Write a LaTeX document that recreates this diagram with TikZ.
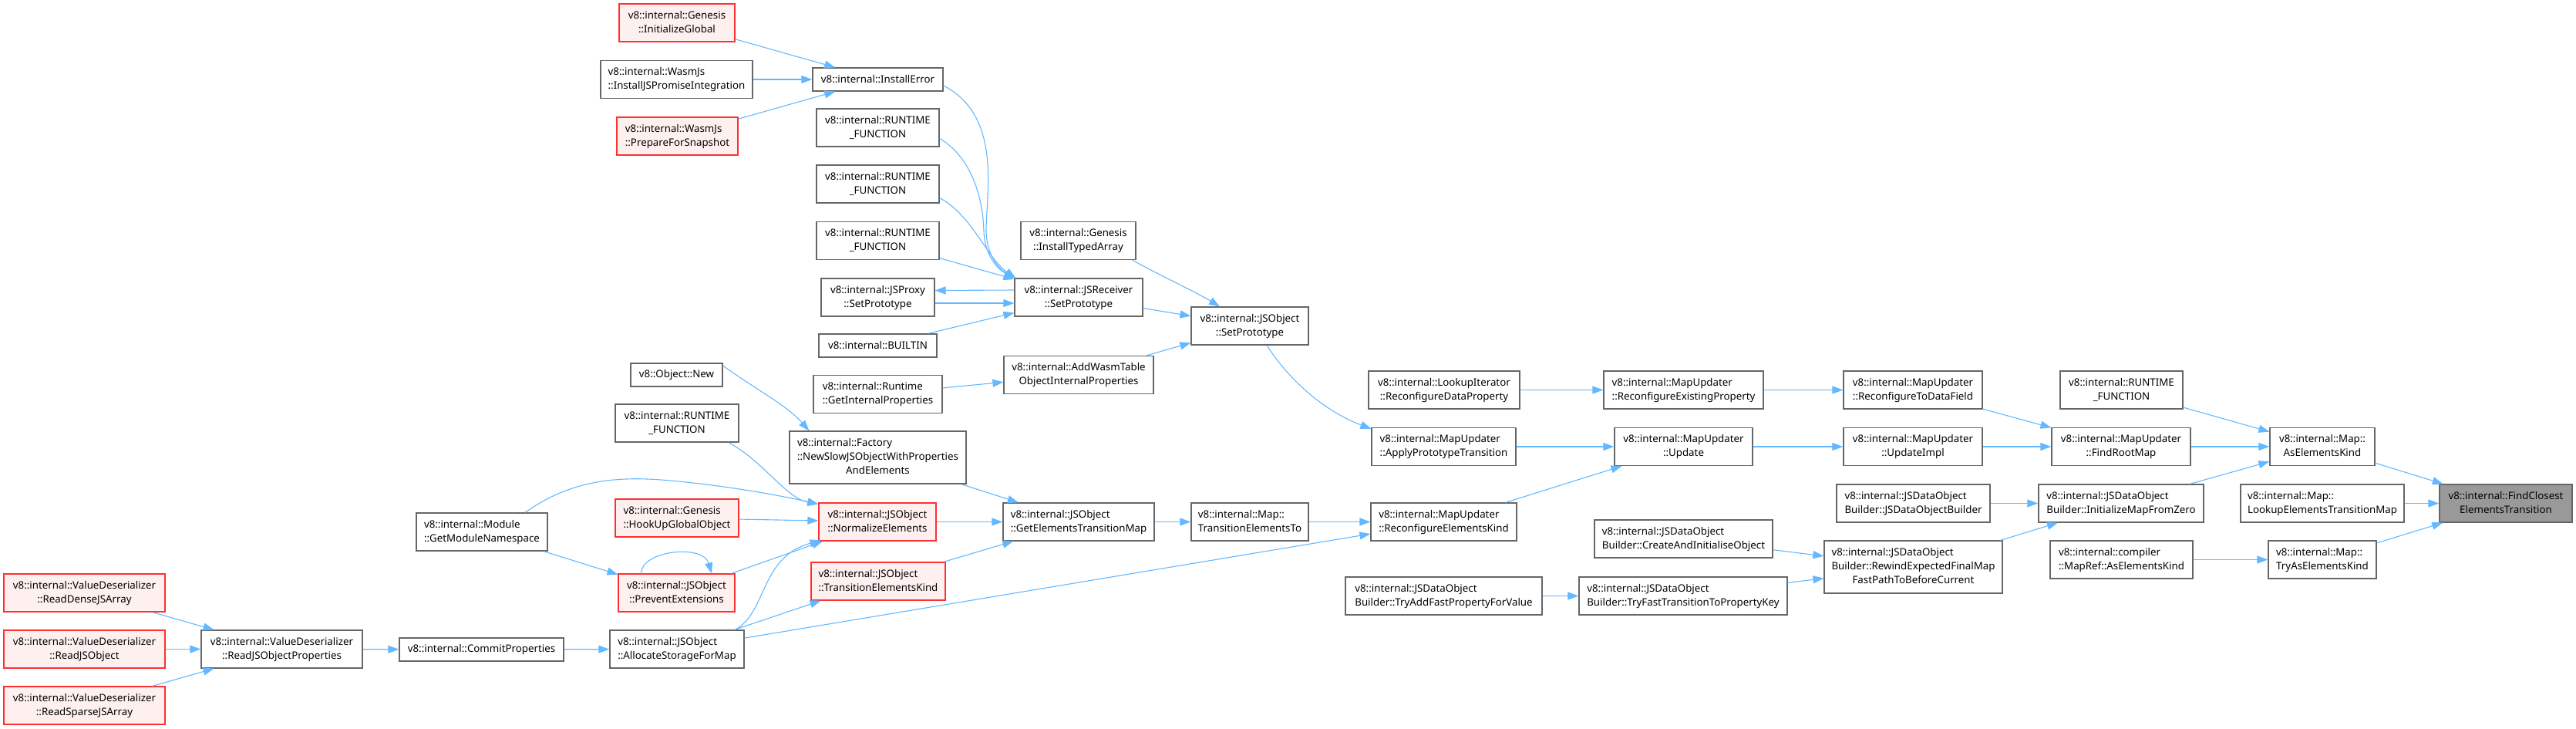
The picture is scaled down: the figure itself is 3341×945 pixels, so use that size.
\documentclass[tikz,border=0pt]{standalone}
\usepackage{fontspec}
\setmainfont{Noto Sans}
\usetikzlibrary{arrows.meta}
\definecolor{edgeblue}{HTML}{63B8FF}
\definecolor{boxgray}{HTML}{666666}
\definecolor{redfill}{HTML}{FFF0F0}
\definecolor{redline}{HTML}{FF3030}
\definecolor{mainfill}{HTML}{999999}
\newcommand{\twoline}[2]{\begin{tabular}{@{}l@{}}#1\\\multicolumn{1}{@{}c@{}}{#2}\end{tabular}}
\newcommand{\threeline}[3]{\begin{tabular}{@{}l@{}}#1\\#2\\\multicolumn{1}{@{}c@{}}{#3}\end{tabular}}
\tikzset{
  fn/.style={draw=boxgray, fill=white, line width=1.2pt, inner sep=0pt, text=black,
    font=\fontsize{13.3}{18}\selectfont, minimum height=49pt},
  redfn/.style={fn, draw=redline, fill=redfill},
  mainfn/.style={fn, fill=mainfill},
  wd/.style={minimum width=#1pt},
  oneline/.style={minimum height=30pt},
  tripleline/.style={minimum height=68pt},
  call/.style={draw=edgeblue, line width=1.1pt, -{Triangle[length=14pt,width=10pt]}},
}
\begin{document}
\begin{tikzpicture}[x=1pt,y=-1pt]
\useasboundingbox (0,0) rectangle (3341,945);
% column 1-3
\node[redfn,wd=209] (rdense) at (109.5,768.5) {\twoline{v8::internal::ValueDeserializer}{::ReadDenseJSArray}};
\node[redfn,wd=209] (rjsobj) at (109.5,841.5) {\twoline{v8::internal::ValueDeserializer}{::ReadJSObject}};
\node[redfn,wd=209] (rsparse) at (109.5,914.5) {\twoline{v8::internal::ValueDeserializer}{::ReadSparseJSArray}};
\node[fn,wd=209] (rprops) at (365.5,841.5) {\twoline{v8::internal::ValueDeserializer}{::ReadJSObjectProperties}};
\node[fn,wd=213,oneline] (commit) at (624.5,842) {v8::internal::CommitProperties};
\node[fn,wd=170] (modns) at (625,689.5) {\twoline{v8::internal::Module}{::GetModuleNamespace}};
% column 4
\node[redfn,wd=150] (initglobal) at (878,29.5) {\twoline{v8::internal::Genesis}{::InitializeGlobal}};
\node[fn,wd=197] (jspromise) at (877.5,103) {\twoline{v8::internal::WasmJs}{::InstallJSPromiseIntegration}};
\node[redfn,wd=157] (prepsnap) at (878.5,176.5) {\twoline{v8::internal::WasmJs}{::PrepareForSnapshot}};
\node[fn,wd=119,oneline] (objnew) at (877.5,486) {v8::Object::New};
\node[fn,wd=160] (rtleft) at (878,548.5) {\twoline{v8::internal::RUNTIME}{\_FUNCTION}};
\node[redfn,wd=160] (hookup) at (878,671.5) {\twoline{v8::internal::Genesis}{::HookUpGlobalObject}};
\node[redfn,wd=151] (prevext) at (877.5,768.5) {\twoline{v8::internal::JSObject}{::PreventExtensions}};
\node[fn,wd=174] (allocst) at (878,841.5) {\twoline{v8::internal::JSObject}{::AllocateStorageForMap}};
% column 5
\node[fn,wd=169,oneline] (insterr) at (1138.5,103) {v8::internal::InstallError};
\node[fn,wd=159] (rt1) at (1138.5,165.5) {\twoline{v8::internal::RUNTIME}{\_FUNCTION}};
\node[fn,wd=159] (rt2) at (1138.5,238.5) {\twoline{v8::internal::RUNTIME}{\_FUNCTION}};
\node[fn,wd=159] (rt3) at (1138.5,312) {\twoline{v8::internal::RUNTIME}{\_FUNCTION}};
\node[fn,wd=147] (jsproxy) at (1138.5,385.5) {\twoline{v8::internal::JSProxy}{::SetPrototype}};
\node[fn,wd=153,oneline] (builtin) at (1138.5,448) {v8::internal::BUILTIN};
\node[fn,wd=167] (getint) at (1138.5,511) {\twoline{v8::internal::Runtime}{::GetInternalProperties}};
\node[fn,wd=229,tripleline] (factory) at (1138.5,593) {\threeline{v8::internal::Factory}{::NewSlowJSObjectWithProperties}{AndElements}};
\node[redfn,wd=152] (normalize) at (1138,676.5) {\twoline{v8::internal::JSObject}{::NormalizeElements}};
\node[redfn,wd=174] (transkind) at (1139,753.5) {\twoline{v8::internal::JSObject}{::TransitionElementsKind}};
% column 6-7
\node[fn,wd=149] (typedarr) at (1398.5,312) {\twoline{v8::internal::Genesis}{::InstallTypedArray}};
\node[fn,wd=166] (jsrecv) at (1399,385.5) {\twoline{v8::internal::JSReceiver}{::SetPrototype}};
\node[fn,wd=194] (addwasm) at (1399,486) {\twoline{v8::internal::AddWasmTable}{ObjectInternalProperties}};
\node[fn,wd=196] (getetm) at (1399,676.5) {\twoline{v8::internal::JSObject}{::GetElementsTransitionMap}};
\node[fn,wd=152] (jsobjsp) at (1621,422.5) {\twoline{v8::internal::JSObject}{::SetPrototype}};
\node[fn,wd=152] (transto) at (1621,676.5) {\twoline{v8::internal::Map::}{TransitionElementsTo}};
% column 8
\node[fn,wd=196] (lookupit) at (1873,505.5) {\twoline{v8::internal::LookupIterator}{::ReconfigureDataProperty}};
\node[fn,wd=187] (applyproto) at (1872.5,579) {\twoline{v8::internal::MapUpdater}{::ApplyPrototypeTransition}};
\node[fn,wd=189] (reconfek) at (1872.5,676.5) {\twoline{v8::internal::MapUpdater}{::ReconfigureElementsKind}};
\node[fn,wd=255] (tryaddfast) at (1872.5,772.5) {\twoline{v8::internal::JSDataObject}{Builder::TryAddFastPropertyForValue}};
% column 9
\node[fn,wd=207] (reconfexist) at (2183.5,505.5) {\twoline{v8::internal::MapUpdater}{::ReconfigureExistingProperty}};
\node[fn,wd=179] (update) at (2183.5,579) {\twoline{v8::internal::MapUpdater}{::Update}};
\node[fn,wd=231] (createinit) at (2183.5,698.5) {\twoline{v8::internal::JSDataObject}{Builder::CreateAndInitialiseObject}};
\node[fn,wd=270] (tryfast) at (2183,772.5) {\twoline{v8::internal::JSDataObject}{Builder::TryFastTransitionToPropertyKey}};
% column 10
\node[fn,wd=180] (reconftodf) at (2481,505.5) {\twoline{v8::internal::MapUpdater}{::ReconfigureToDataField}};
\node[fn,wd=180] (updateimpl) at (2481,579) {\twoline{v8::internal::MapUpdater}{::UpdateImpl}};
\node[fn,wd=199] (jsdobuilder) at (2481.5,652.5) {\twoline{v8::internal::JSDataObject}{Builder::JSDataObjectBuilder}};
\node[fn,wd=231,tripleline] (rewind) at (2481.5,735) {\threeline{v8::internal::JSDataObject}{Builder::RewindExpectedFinalMap}{FastPathToBeforeCurrent}};
% column 11
\node[fn,wd=159] (rtright) at (2751.5,505.5) {\twoline{v8::internal::RUNTIME}{\_FUNCTION}};
\node[fn,wd=180] (findroot) at (2751,579) {\twoline{v8::internal::MapUpdater}{::FindRootMap}};
\node[fn,wd=214] (initmapzero) at (2751,652.5) {\twoline{v8::internal::JSDataObject}{Builder::InitializeMapFromZero}};
\node[fn,wd=185] (mapref) at (2751.5,725.5) {\twoline{v8::internal::compiler}{::MapRef::AsElementsKind}};
% column 12-13
\node[fn,wd=136] (asek) at (3012,579) {\twoline{v8::internal::Map::}{AsElementsKind}};
\node[fn,wd=212] (lookupetm) at (3012,652.5) {\twoline{v8::internal::Map::}{LookupElementsTransitionMap}};
\node[fn,wd=140] (tryasek) at (3012,725.5) {\twoline{v8::internal::Map::}{TryAsElementsKind}};
\node[mainfn,wd=172] (findclosest) at (3250,652.5) {\twoline{v8::internal::FindClosest}{ElementsTransition}};

% edges
\draw[call] (rdense) -- (rprops);
\draw[call] (rjsobj) -- (rprops);
\draw[call] (rsparse) -- (rprops);
\draw[call] (rprops) -- (commit);
\draw[call] (commit) -- (allocst);
\draw[call] (modns) -- (prevext);
\draw[call] ([xshift=56pt]modns.north) .. controls (750,615) and (820,618) .. (880,624) .. controls (950,631) and (1010,642) .. ([yshift=-2pt]normalize.north west);
\draw[call] (initglobal) -- (insterr);
\draw[call] (jspromise) -- (insterr);
\draw[call] (prepsnap) -- (insterr);
\draw[call] ([yshift=-8pt]insterr.east) .. controls (1300,150) and (1279,250) .. (1279,300) .. controls (1280,332) and (1296,349) .. ([xshift=2pt]jsrecv.north west);
\draw[call] ([yshift=-14pt]rt1.east) .. controls (1262,205) and (1275,260) .. (1276,300) .. controls (1277,332) and (1295,350) .. ([xshift=2pt]jsrecv.north west);
\draw[call] ([yshift=-18pt]rt2.east) .. controls (1262,280) and (1280,335) .. ([xshift=2pt]jsrecv.north west);
\draw[call] (rt3) -- (jsrecv);
\draw[call] ([yshift=9.5pt]jsrecv.west) -- ([yshift=9pt]jsproxy.east);
\draw[call] ([yshift=-7.5pt]jsproxy.east) -- ([yshift=-7.5pt]jsrecv.west);
\draw[call] (builtin) -- (jsrecv);
\draw[call] ([xshift=70pt]typedarr.south) .. controls (1510,360) and (1550,378) .. ([xshift=-39pt]jsobjsp.north);
\draw[call] (jsrecv) -- (jsobjsp);
\draw[call] (addwasm) -- (jsobjsp);
\draw[call] (getint) -- (addwasm);
\draw[call] ([yshift=12pt]objnew.east) .. controls (985,508) and (1020,525) .. ([xshift=26pt]factory.north west);
\draw[call] ([xshift=67pt]rtleft.south) .. controls (990,598) and (1020,646) .. ([yshift=-2pt]normalize.north west);
\draw[call] (hookup) -- (normalize);
\draw[call] (prevext) -- (normalize);
\draw[call] ([xshift=75pt]allocst.north) .. controls (995,795) and (985,722) .. ([xshift=3pt,yshift=1pt]normalize.south west);
\draw[call] ([xshift=-46pt]prevext.north) .. controls +(0,-30) and (912,705) .. ([xshift=45.5pt]prevext.north);
\draw[call] (allocst) -- (transkind);
\draw[call] (allocst) -- (reconfek);
\draw[call] (factory) -- (getetm);
\draw[call] (normalize) -- (getetm);
\draw[call] (transkind) -- (getetm);
\draw[call] (getetm) -- (transto);
\draw[call] (transto) -- (reconfek);
\draw[call] ([xshift=22pt]jsobjsp.south) .. controls (1670,490) and (1715,532) .. ([yshift=-2pt]applyproto.north west);
\draw[call] (lookupit) -- (reconfexist);
\draw[call] (reconfexist) -- (reconftodf);
\draw[call] (applyproto) -- (update);
\draw[call] (reconfek) -- (update);
\draw[call] (update) -- (updateimpl);
\draw[call] (tryaddfast) -- (tryfast);
\draw[call] (createinit) -- (rewind);
\draw[call] (tryfast) -- (rewind);
\draw[call] (reconftodf) -- (findroot);
\draw[call] (updateimpl) -- (findroot);
\draw[call] (jsdobuilder) -- (initmapzero);
\draw[call] (rewind) -- (initmapzero);
\draw[call] (rtright) -- (asek);
\draw[call] (findroot) -- (asek);
\draw[call] (initmapzero) -- (asek);
\draw[call] (mapref) -- (tryasek);
\draw[call] (asek) -- (findclosest);
\draw[call] (lookupetm) -- (findclosest);
\draw[call] (tryasek) -- (findclosest);
\end{tikzpicture}
\end{document}
